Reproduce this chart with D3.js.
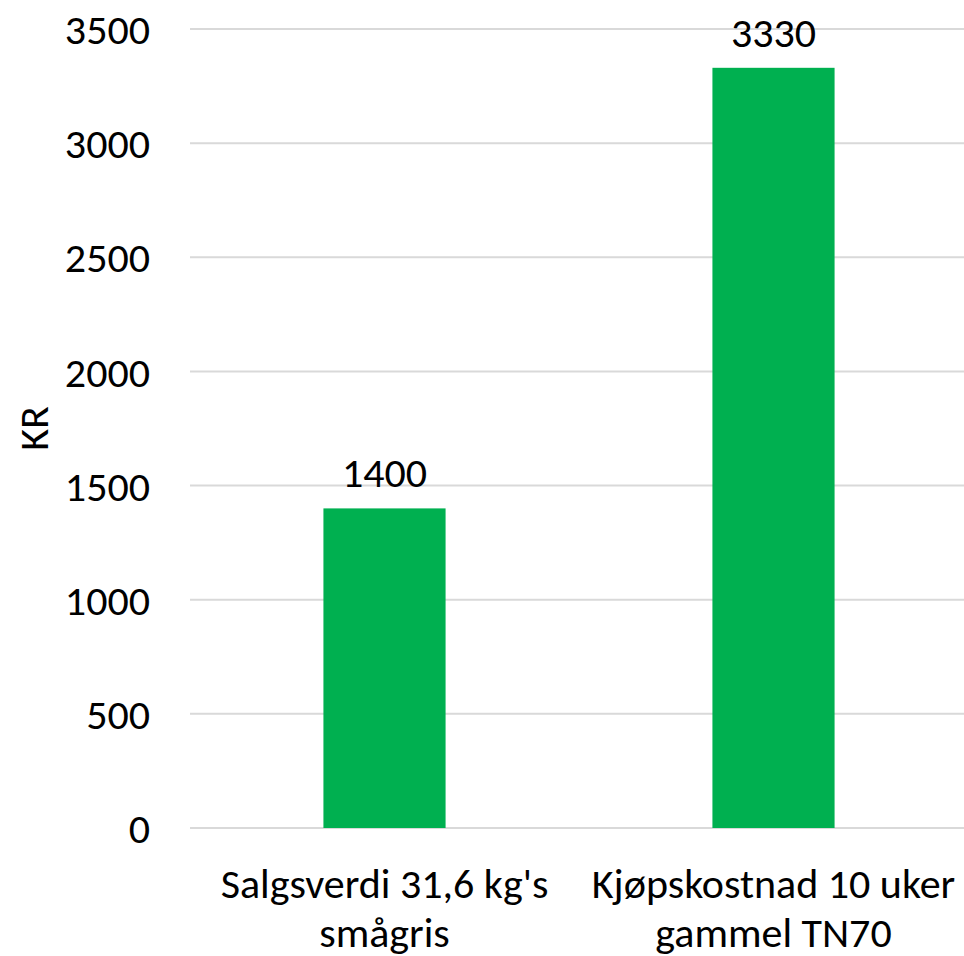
<!DOCTYPE html>
<html>
<head>
<meta charset="utf-8">
<script src="https://cdn.jsdelivr.net/npm/d3@7/dist/d3.min.js"></script>
<style>
  html, body { margin: 0; padding: 0; background: #fff; overflow: hidden; }
  svg { display: block; }
  text { font-family: Carlito, Calibri, Lato, "Open Sans", sans-serif; fill: #000; }
</style>
</head>
<body>
<svg id="chart" width="964" height="956"></svg>
<script>
const categories = [["Salgsverdi 31,6 kg's", "smågris"], ["Kjøpskostnad 10 uker", "gammel TN70"]];
const values = [1400, 3330];
const yTicks = [0, 500, 1000, 1500, 2000, 2500, 3000, 3500];
const yTitle = "KR";

const svg = d3.select("#chart");
const mLeft = 190, mRight = 968, mTop = 29, mBottom = 828;

const x = d3.scaleBand().domain(d3.range(categories.length)).range([mLeft, mRight])
  .paddingInner(0.686).paddingOuter(0.343);
const y = d3.scaleLinear().domain([0, 3500]).range([mBottom, mTop]);

// gridlines
svg.append("g").selectAll("line").data(yTicks).join("line")
  .attr("x1", mLeft).attr("x2", 964)
  .attr("y1", d => y(d)).attr("y2", d => y(d))
  .attr("stroke", "#d9d9d9").attr("stroke-width", 2);

// y tick labels
const fs = 42;
svg.append("g").selectAll("text").data(yTicks).join("text")
  .attr("x", 150).attr("y", d => y(d)).attr("dy", "0.36em")
  .attr("text-anchor", "end").attr("font-size", fs)
  .text(d => d);

// bars
svg.append("g").selectAll("rect").data(values).join("rect")
  .attr("x", (d, i) => x(i)).attr("width", x.bandwidth())
  .attr("y", d => y(d)).attr("height", d => y(0) - y(d))
  .attr("fill", "#00B050");

// value labels
svg.append("g").selectAll("text").data(values).join("text")
  .attr("x", (d, i) => x(i) + x.bandwidth() / 2).attr("y", d => y(d) - 21)
  .attr("text-anchor", "middle").attr("font-size", fs)
  .text(d => d);

// category labels
const cat = svg.append("g").selectAll("text").data(categories).join("text")
  .attr("text-anchor", "middle").attr("font-size", fs)
  .attr("x", (d, i) => x(i) + x.bandwidth() / 2).attr("y", 898);
cat.selectAll("tspan").data(d => d).join("tspan")
  .attr("x", function() { return this.parentNode.getAttribute("x"); })
  .attr("dy", (d, j) => j === 0 ? 0 : 49)
  .text(d => d);

// y title
svg.append("text")
  .attr("transform", `translate(48, ${(mTop + mBottom) / 2}) rotate(-90)`)
  .attr("text-anchor", "middle").attr("font-size", fs)
  .text(yTitle);
</script>
</body>
</html>
